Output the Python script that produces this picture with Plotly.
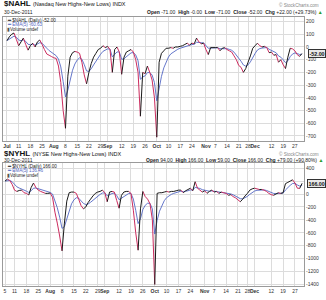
import plotly.graph_objects as go

# ---------------- data ----------------
# trading-day index 0 = 1-Jul-2011 ... 126 = 30-Dec-2011
nahl_values = [50, 80, 100, 110, 60, 10, 40, 70, 20, -25,
               10, 30, 0, 40, 55, 20, -20, -55, -65, -75,
               -85, -90, -150, -280, -500, -640, -230, -80, -45, -35,
               -40, -50, -120, -220, -290, -200, -130, -80, -50, -20,
               -10, 10, -5, 5, -20, -200, -20, 0, -40, -215,
               -80, -40, -30, -20, -40, -100, -200, -545, -200, -210,
               -150, -200, -260, -400, -710, -120, -50, -30, -10, -10,
               -5, -10, 0, 0, 5, 10, 20, 30, 15, 30,
               25, 70, 40, 25, 30, -20, -60, -5, -5, -5,
               -5, -30, -10, -5, -20, -30, -40, -70, -100, -145,
               -160, -200, -170, -120, -70, -10, 10, 30, 10, 0,
               5, -5, -45, -40, -65, -60, -120, -100, -140, -170,
               -80, -10, -15, -30, -60, -74, -52]

# NYHL starts 5-Jul-2011 (index 1)
nyhl_values = [200, 230, 210, 150, 60, 40, 55, 60, 20, 10,
               -15, 100, 170, 100, 60, 40, 25, 10, 10, 15,
               -50, -280, -450, -650, -880, -450, -110, 20, 30, 30,
               10, -80, -180, -230, -200, -130, -80, -30, 10, 30,
               40, 60, 20, -120, 30, 40, 30, -100, -220, -20,
               30, 40, 40, 10, -250, -600, -870, -230, 40, -40,
               -80, -150, -400, -1400, 10, 20, 20, 30, 40, 30,
               40, 40, 50, 60, 60, 20, 50, 70, 90, 50,
               190, 90, 60, 30, 50, 10, 40, 60, 30, 40,
               10, 30, 20, 10, -20, -10, -40, -60, -90, -120,
               -80, -30, 10, 60, 80, 90, 80, 70, 70, 60,
               40, 10, -10, -20, 0, 20, 10, 20, 160, 180,
               200, 220, 170, 90, 87, 166]

tick_idx_top = [0, 5, 10, 15, 20, 25, 30, 35, 40, 43, 49, 54, 59, 64, 69, 74, 79,
                85, 89, 94, 99, 103, 106, 113, 118, 123]
tick_txt_top = ["<b>Jul</b>", "11", "18", "25", "<b>Aug</b>", "8", "15", "22", "29",
                "<b>Sep</b>", "12", "19", "26", "<b>Oct</b>", "10", "17", "24",
                "<b>Nov</b>", "7", "14", "21", "28", "<b>Dec</b>", "12", "19", "27"]
tick_idx_bot = [1] + tick_idx_top[1:]
tick_txt_bot = ["5"] + tick_txt_top[1:]

ytick_top = [200, 100, 0, -100, -200, -300, -400, -500, -600, -700]
ytick_bot = [400, 200, 0, -200, -400, -600, -800, -1000, -1200, -1400]
ytxt_bot = ["400", "", "0", "-200", "-400", "-600", "-800", "-1000", "-1200", "-1400"]

# ---------------- helpers ----------------
RED = "#cc2b5e"
BLACK = "#1a1a1a"
BLUE = "#5468c4"


def ema(vals, n=5):
    a = 2.0 / (n + 1)
    out = [vals[0]]
    for v in vals[1:]:
        out.append(out[-1] + a * (v - out[-1]))
    return out


def dir_segments(xs, ys):
    up_x, up_y, dn_x, dn_y = [], [], [], []
    for i in range(len(xs) - 1):
        if ys[i + 1] < ys[i]:
            dn_x += [xs[i], xs[i + 1], None]
            dn_y += [ys[i], ys[i + 1], None]
        else:
            up_x += [xs[i], xs[i + 1], None]
            up_y += [ys[i], ys[i + 1], None]
    return up_x, up_y, dn_x, dn_y


fig = go.Figure()

x_top = list(range(len(nahl_values)))
x_bot = list(range(1, 1 + len(nyhl_values)))

for xs, ys, xa, ya in [(x_top, nahl_values, "x", "y"), (x_bot, nyhl_values, "x2", "y2")]:
    e = ema(ys)
    fig.add_trace(go.Scatter(x=xs, y=e, mode="lines", line=dict(color=BLUE, width=0.9),
                             xaxis=xa, yaxis=ya, hoverinfo="skip"))
    ux, uy, dx, dy = dir_segments(xs, ys)
    fig.add_trace(go.Scatter(x=dx, y=dy, mode="lines", line=dict(color=RED, width=1),
                             xaxis=xa, yaxis=ya, hoverinfo="skip"))
    fig.add_trace(go.Scatter(x=ux, y=uy, mode="lines", line=dict(color=BLACK, width=1),
                             xaxis=xa, yaxis=ya, hoverinfo="skip"))

W, H = 326, 300
xdom = [3 / W, 304 / W]
FONT = "Liberation Sans, Arial, sans-serif"
grid = "#dcdcdc"

axis_common = dict(showgrid=True, gridcolor=grid, gridwidth=1, zeroline=False,
                   showline=True, linecolor="#9a9a9a", linewidth=1, mirror=True,
                   ticks="", tickangle=0,
                   tickfont=dict(size=5, color="#333", family=FONT))

fig.update_layout(
    width=W, height=H, margin=dict(l=0, r=0, t=0, b=0),
    paper_bgcolor="white", plot_bgcolor="white", showlegend=False,
    xaxis=dict(domain=xdom, range=[-1.7, 126.9], anchor="y",
               tickmode="array", tickvals=tick_idx_top, ticktext=tick_txt_top, **axis_common),
    yaxis=dict(domain=[1 - 141 / H, 1 - 17 / H], range=[-740, 236], anchor="x", side="right",
               tickmode="array", tickvals=ytick_top, ticktext=[str(v) for v in ytick_top],
               **axis_common),
    xaxis2=dict(domain=xdom, range=[0.16, 126.8], anchor="y2",
                tickmode="array", tickvals=tick_idx_bot, ticktext=tick_txt_bot, **axis_common),
    yaxis2=dict(domain=[1 - 286 / H, 1 - 163 / H], range=[-1424, 480], anchor="x2", side="right",
                tickmode="array", tickvals=ytick_bot, ticktext=ytxt_bot,
                **axis_common),
)


def ann(text, x, y, size=5.5, xanchor="left", color="#222", **kw):
    fig.add_annotation(text=text, x=x / W, y=1 - y / H, xref="paper", yref="paper",
                       xanchor=xanchor, yanchor="middle", showarrow=False,
                       font=dict(size=size, color=color, family=FONT), **kw)


panels = [
    dict(sym="NAHL", name="Nasdaq New Highs-New Lows", ty=4, dy=12.5, ly=[20.5, 24.8, 29.1],
         hdr="<b>Open</b> -71.00  <b>High</b> -0.00  <b>Low</b> -71.00  <b>Close</b> -52.00  "
             "<b>Chg</b> +22.00 (+29.73%)", last="-52.00", ema_txt="-60.63",
         yref="y", lastv=nahl_values[-1]),
    dict(sym="NYHL", name="NYSE New Highs-New Lows", ty=153.5, dy=159.5, ly=[166.5, 170.8, 175.1],
         hdr="<b>Open</b> 94.00  <b>High</b> 166.00  <b>Low</b> 59.00  <b>Close</b> 166.00  "
             "<b>Chg</b> +79.00 (+90.80%)", last="166.00", ema_txt="136.46",
         yref="y2", lastv=nyhl_values[-1]),
]

for p in panels:
    ann("<b>$" + p["sym"] + "</b> <span style='font-size:5.5px'>(" + p["name"] + ") INDX</span>",
        2, p["ty"], size=8, color="#111")
    ann("30-Dec-2011", 2, p["dy"], size=5)
    ann(p["hdr"] + " <span style='color:#2a9d2a'>▲</span>", 325, p["dy"], size=5,
        xanchor="right")
    ann("© StockCharts.com", 321, p["ty"] + 0.5, size=4.6, xanchor="right", color="#888")
    ann("<b>━</b> $" + p["sym"] + " (Daily) " + p["last"], 5, p["ly"][0], size=4.6)
    ann("<span style='color:" + BLUE + "'><b>━</b></span> EMA(5) " + p["ema_txt"], 5,
        p["ly"][1], size=4.6, color=BLUE)
    ann("<span style='color:#555'>▮</span>Volume undef", 5, p["ly"][2], size=4.6)
    fig.add_annotation(text="<b>" + p["last"] + "</b>", x=1.0, xref="paper", xanchor="right",
                       y=p["lastv"], yref=p["yref"], yanchor="middle", showarrow=False,
                       font=dict(size=5.3, color="#111", family=FONT),
                       bgcolor="#e8e8e8", bordercolor="#333", borderwidth=1, borderpad=0.5)

fig.write_html("out.html")
